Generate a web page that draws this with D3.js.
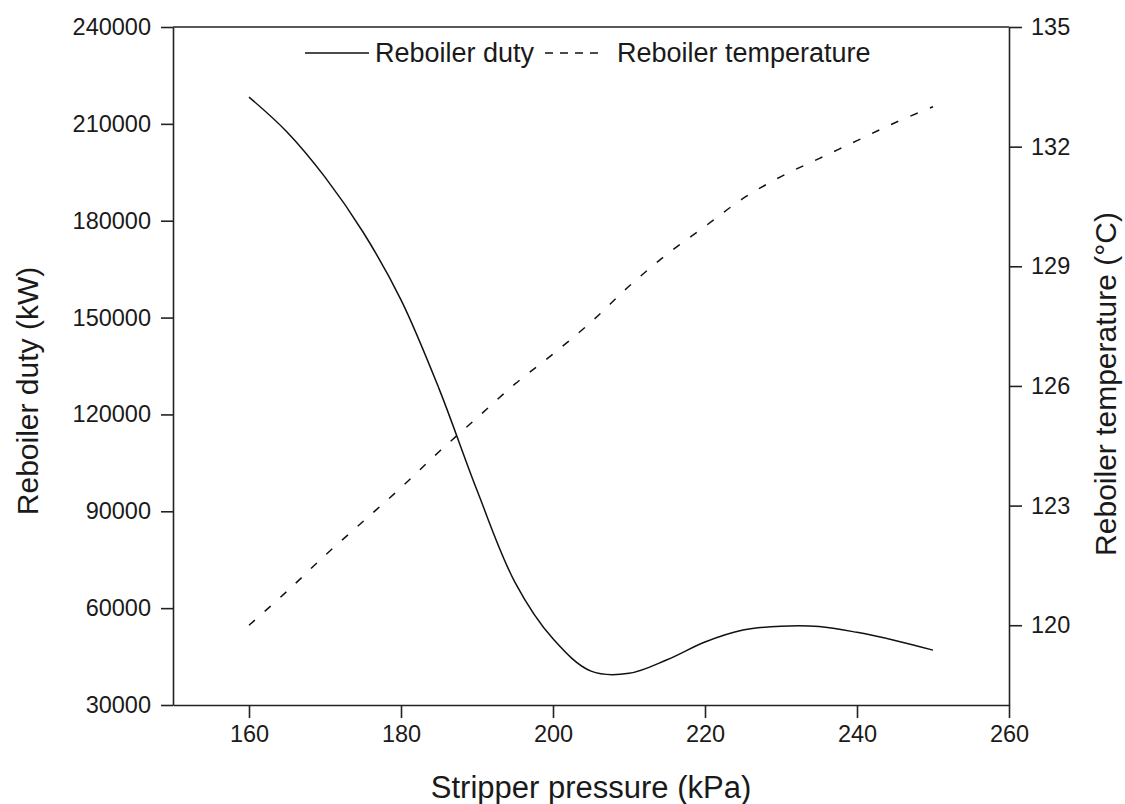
<!DOCTYPE html>
<html>
<head>
<meta charset="utf-8">
<script src="https://cdn.jsdelivr.net/npm/d3@7"></script>
<style>
    body { margin: 0; background: #fff; }
    text { font-family: Arial, "Liberation Sans", sans-serif; fill: #1a1a1a; }
</style>
</head>
<body>
<div class="graph-container"></div>
<script>
// data
const pressure = [160, 165, 170, 175, 180, 185, 190, 195, 200, 205, 210, 215, 220, 225, 230, 235, 240, 245, 250];
const duty = [218300, 207500, 193500, 176500, 155500, 128000, 96500, 68000, 50500, 40500, 39800, 44000, 49500, 53200, 54400, 54300, 52500, 50000, 47000];
const temperature = [120.0, 120.85, 121.75, 122.6, 123.45, 124.35, 125.2, 126.05, 126.8, 127.6, 128.5, 129.3, 130.0, 130.7, 131.25, 131.7, 132.15, 132.6, 133.0];
const xTicks = [160, 180, 200, 220, 240, 260];
const dutyTicks = [30000, 60000, 90000, 120000, 150000, 180000, 210000, 240000];
const tempTicks = [120, 123, 126, 129, 132, 135];

// graph constants
const w = 1125;
const h = 804;
const padLeft = 173;
const padRight = 1009;
const padTop = 27;
const padBottom = 705;

const svgChart = d3.select('.graph-container')
    .append('svg')
    .attr('width', w)
    .attr('height', h);

// scales
const xScale = d3.scaleLinear().domain([150, 260]).range([padLeft, padRight]);
const yDuty = d3.scaleLinear().domain([30000, 240000]).range([padBottom, padTop]);
const yTemp = d3.scaleLinear().domain([118, 135]).range([padBottom, padTop]);

// axes
const xAxis = d3.axisBottom(xScale).tickValues(xTicks).tickFormat(d3.format('d'))
    .tickSize(13).tickPadding(7).tickSizeOuter(0);
const yAxisL = d3.axisLeft(yDuty).tickValues(dutyTicks).tickFormat(d3.format('d'))
    .tickSize(12).tickPadding(10).tickSizeOuter(0);
const yAxisR = d3.axisRight(yTemp).tickValues(tempTicks).tickFormat(d3.format('d'))
    .tickSize(13).tickPadding(9).tickSizeOuter(0);

const styleAxis = g => {
    g.selectAll('path, line').attr('stroke', '#222').attr('stroke-width', 1.6);
    g.selectAll('text').attr('font-size', 23.5).attr('fill', '#1a1a1a')
        .attr('font-family', 'Arial, "Liberation Sans", sans-serif');
};

svgChart.append('g')
    .attr('transform', `translate(0, ${padBottom})`)
    .call(xAxis)
    .call(styleAxis);
svgChart.append('g')
    .attr('transform', `translate(${padLeft}, 0)`)
    .call(yAxisL)
    .call(styleAxis);
svgChart.append('g')
    .attr('transform', `translate(${padRight}, 0)`)
    .call(yAxisR)
    .call(styleAxis);
// top frame line
svgChart.append('line')
    .attr('x1', padLeft).attr('x2', padRight)
    .attr('y1', padTop).attr('y2', padTop)
    .attr('stroke', '#222').attr('stroke-width', 1.6);

// lines
const dutyLine = d3.line()
    .x((d, i) => xScale(pressure[i]))
    .y(d => yDuty(d))
    .curve(d3.curveCatmullRom);
const tempLine = d3.line()
    .x((d, i) => xScale(pressure[i]))
    .y(d => yTemp(d))
    .curve(d3.curveCatmullRom);

svgChart.append('path')
    .datum(duty)
    .attr('d', dutyLine)
    .attr('fill', 'none')
    .attr('stroke', '#111')
    .attr('stroke-width', 1.5);
svgChart.append('path')
    .datum(temperature)
    .attr('d', tempLine)
    .attr('fill', 'none')
    .attr('stroke', '#111')
    .attr('stroke-width', 1.5)
    .attr('stroke-dasharray', '8,13');

// legend
const legend = svgChart.append('g');
legend.append('line')
    .attr('x1', 305).attr('x2', 369).attr('y1', 53).attr('y2', 53)
    .attr('stroke', '#111').attr('stroke-width', 1.5);
legend.append('text')
    .text('Reboiler duty')
    .attr('x', 375).attr('y', 62)
    .attr('font-size', 27);
legend.append('line')
    .attr('x1', 545).attr('x2', 602).attr('y1', 53).attr('y2', 53)
    .attr('stroke', '#111').attr('stroke-width', 1.5)
    .attr('stroke-dasharray', '8,7');
legend.append('text')
    .text('Reboiler temperature')
    .attr('x', 617).attr('y', 62)
    .attr('font-size', 27);

// axis titles
svgChart.append('text')
    .text('Stripper pressure (kPa)')
    .attr('x', (padLeft + padRight) / 2)
    .attr('y', 798)
    .attr('text-anchor', 'middle')
    .attr('font-size', 31);
svgChart.append('text')
    .text('Reboiler duty (kW)')
    .attr('transform', 'rotate(-90)')
    .attr('x', -391)
    .attr('y', 38)
    .attr('text-anchor', 'middle')
    .attr('font-size', 30);
svgChart.append('text')
    .text('Reboiler temperature (°C)')
    .attr('transform', 'rotate(-90)')
    .attr('x', -384)
    .attr('y', 1116)
    .attr('text-anchor', 'middle')
    .attr('font-size', 30);
</script>
</body>
</html>
